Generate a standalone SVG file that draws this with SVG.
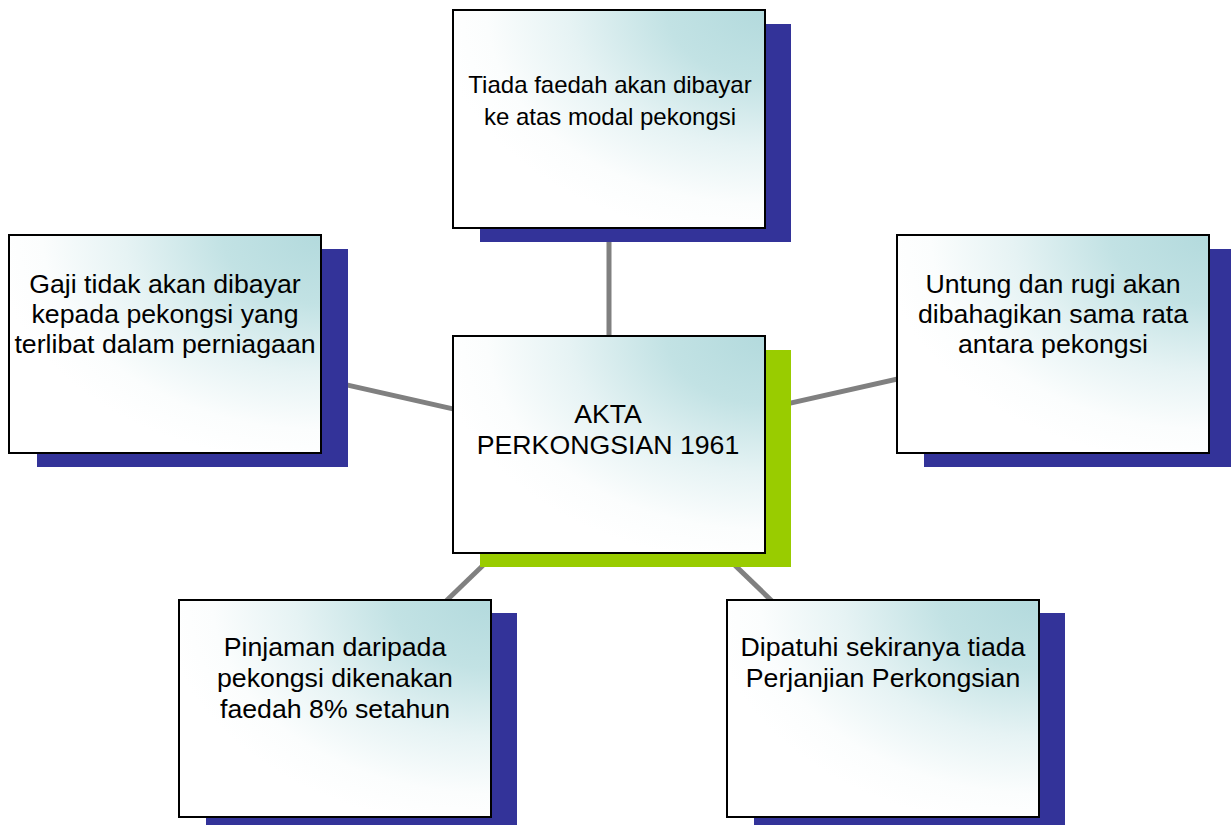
<svg xmlns="http://www.w3.org/2000/svg" width="1231" height="825" viewBox="0 0 1231 825">
<defs>
<radialGradient id="g" cx="1" cy="0" r="1.05" fx="1" fy="0">
<stop offset="0" stop-color="#b3dadd"/>
<stop offset="0.3" stop-color="#c2e2e4"/>
<stop offset="0.6" stop-color="#e6f3f4"/>
<stop offset="0.85" stop-color="#fbfdfd"/>
<stop offset="1" stop-color="#ffffff"/>
</radialGradient>
</defs>
<style>
.box{fill:url(#g);stroke:#000;stroke-width:2}
.sh{fill:#333399}
.shg{fill:#99cc00}
.t{font-family:"Liberation Sans",Arial,sans-serif;font-size:26.7px;fill:#000;text-anchor:middle}
.ts{font-size:24px}
.c{stroke:#808080;stroke-width:5;fill:none}
</style>
<rect width="1231" height="825" fill="#fff"/>
<g id="connectors">
<line class="c" x1="609" y1="444" x2="609" y2="119"/>
<line class="c" x1="609" y1="444" x2="165" y2="344"/>
<line class="c" x1="609" y1="444" x2="1053" y2="344"/>
<line class="c" x1="609" y1="444" x2="335" y2="708"/>
<line class="c" x1="609" y1="444" x2="883" y2="708"/>
</g>
<g id="top">
<rect class="sh" x="480" y="24" width="311" height="218"/>
<rect class="box" x="453" y="10" width="312" height="218"/>
<text class="t ts" x="610" y="93">Tiada faedah akan dibayar</text>
<text class="t ts" x="610" y="125">ke atas modal pekongsi</text>
</g>
<g id="left">
<rect class="sh" x="37" y="249" width="311" height="218"/>
<rect class="box" x="9" y="235" width="312" height="218"/>
<text class="t" x="165" y="293">Gaji tidak akan dibayar</text>
<text class="t" x="165" y="323">kepada pekongsi yang</text>
<text class="t" x="165" y="353">terlibat dalam perniagaan</text>
</g>
<g id="right">
<rect class="sh" x="924" y="249" width="311" height="218"/>
<rect class="box" x="897" y="235" width="312" height="218"/>
<text class="t" x="1053" y="293">Untung dan rugi akan</text>
<text class="t" x="1053" y="323">dibahagikan sama rata</text>
<text class="t" x="1053" y="353">antara pekongsi</text>
</g>
<g id="center">
<rect class="shg" x="480" y="350" width="311" height="217"/>
<rect class="box" x="453" y="336" width="312" height="217"/>
<text class="t" x="608" y="423">AKTA</text>
<text class="t" x="608" y="454">PERKONGSIAN 1961</text>
</g>
<g id="bottom-left">
<rect class="sh" x="206" y="613" width="311" height="218"/>
<rect class="box" x="179" y="600" width="312" height="217"/>
<text class="t" x="335" y="656">Pinjaman daripada</text>
<text class="t" x="335" y="687">pekongsi dikenakan</text>
<text class="t" x="335" y="718">faedah 8% setahun</text>
</g>
<g id="bottom-right">
<rect class="sh" x="754" y="613" width="311" height="218"/>
<rect class="box" x="727" y="600" width="312" height="217"/>
<text class="t" x="883" y="656">Dipatuhi sekiranya tiada</text>
<text class="t" x="883" y="687">Perjanjian Perkongsian</text>
</g>
</svg>
